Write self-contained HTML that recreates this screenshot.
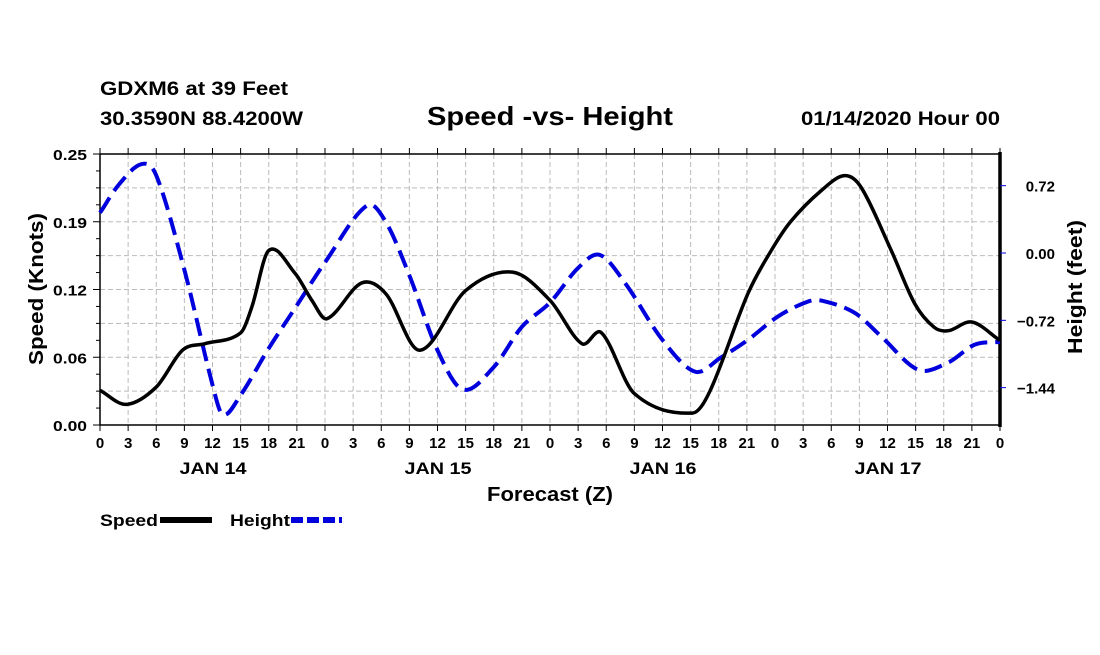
<!DOCTYPE html>
<html><head><meta charset="utf-8"><style>
body{margin:0;background:#fff;width:1100px;height:650px;overflow:hidden}
svg{font-family:"Liberation Sans",Arial,sans-serif;font-weight:bold}
</style></head><body>
<svg id="c" width="1100" height="650">
<text x="100" y="95" font-size="19" textLength="188" lengthAdjust="spacingAndGlyphs">GDXM6 at 39 Feet</text>
<text x="100" y="125" font-size="19" textLength="203" lengthAdjust="spacingAndGlyphs">30.3590N 88.4200W</text>
<text x="427" y="125" font-size="26" textLength="246" lengthAdjust="spacingAndGlyphs">Speed -vs- Height</text>
<text x="801" y="125" font-size="19" textLength="199" lengthAdjust="spacingAndGlyphs">01/14/2020 Hour 00</text>
<g id="grid"></g><g id="axes"></g><g id="series"></g>
<text x="487" y="501" font-size="20" textLength="126" lengthAdjust="spacingAndGlyphs">Forecast (Z)</text>
<text transform="translate(43,365) rotate(-90)" font-size="20" textLength="152" lengthAdjust="spacingAndGlyphs">Speed (Knots)</text>
<text transform="translate(1082,354) rotate(-90)" font-size="20" textLength="134" lengthAdjust="spacingAndGlyphs">Height (feet)</text>
<g><text x="100" y="526" font-size="17" textLength="58" lengthAdjust="spacingAndGlyphs">Speed</text><line x1="160" y1="520" x2="212" y2="520" stroke="#000" stroke-width="6"/></g>
<g><text x="230" y="526" font-size="17" textLength="60" lengthAdjust="spacingAndGlyphs">Height</text><line x1="291" y1="520" x2="342" y2="520" stroke="#0000dd" stroke-width="6" stroke-dasharray="12,4"/></g>
</svg>
<script>
const hours=[0,2.8,6,8.8,11.2,15,16.2,18,20.8,22.6,24.2,27.9,30.5,34.1,39,44,48,51.4,53.5,57,63.2,65.1,69.1,71.6,73.7,76.9,79.4,81.2,84.4,86.9,89,90.5,93,96];
const speed=[0.032,0.019,0.035,0.069,0.075,0.085,0.109,0.161,0.140,0.115,0.098,0.131,0.121,0.069,0.124,0.141,0.115,0.075,0.085,0.029,0.011,0.032,0.121,0.161,0.188,0.216,0.230,0.219,0.161,0.112,0.090,0.087,0.095,0.078];
const heightHours=[0,2,4.4,6,9,12,13.1,15,18,21,24,28.5,30.5,33,36,38.7,42,45,48,51,53.3,56,60,63.5,66.2,69.1,72.3,75.5,77,80.5,83.4,87.3,90.5,93.3,96];
const heightVals=[0.43,0.73,0.95,0.83,-0.18,-1.41,-1.73,-1.52,-1.02,-0.56,-0.10,0.51,0.33,-0.24,-1.04,-1.46,-1.22,-0.79,-0.53,-0.16,-0.02,-0.32,-0.93,-1.27,-1.12,-0.93,-0.68,-0.52,-0.51,-0.64,-0.90,-1.25,-1.17,-0.98,-0.95];
const leftTicks=["0.00","0.06","0.12","0.19","0.25"];
const rightTicks=[0.72,0,-0.72,-1.44];
const rightLabels=["0.72","0.00","−0.72","−1.44"];
const dayLabels=["JAN 14","JAN 15","JAN 16","JAN 17"];
const X0=100,X1=1000,Y0=425,Y1=154;
const xs=h=>X0+h*(X1-X0)/96;
const ys=v=>Y0-v*(Y0-Y1)/0.25;
const yh=v=>253-v*93.5;
const NS="http://www.w3.org/2000/svg";
function mk(p,t,a){const e=document.createElementNS(NS,t);for(const k in a)e.setAttribute(k,a[k]);p.appendChild(e);return e;}
const grid=document.getElementById('grid'),axes=document.getElementById('axes'),ser=document.getElementById('series');
for(let h=3;h<96;h+=3){const l=mk(grid,'line',{x1:xs(h),x2:xs(h),y1:Y1,y2:Y0,stroke:'#bbb','stroke-dasharray':'5,3'});

}
for(let i=1;i<8;i++){const v=i*0.03125;const l=mk(grid,'line',{x1:X0,x2:X1,y1:ys(v),y2:ys(v),stroke:'#bbb','stroke-dasharray':'5,3'});

}
mk(axes,'rect',{x:X0,y:Y1,width:X1-X0,height:Y0-Y1,fill:'none',stroke:'#000','stroke-width':1.5});
mk(axes,'line',{x1:X1,x2:X1,y1:Y1-2,y2:Y0+2,stroke:'#000','stroke-width':3.5});
for(let h=0;h<=96;h+=3){const x=xs(h);mk(axes,'line',{x1:x,x2:x,y1:Y0,y2:Y0+6,stroke:'#000'});mk(axes,'line',{x1:x,x2:x,y1:Y1,y2:Y1-6,stroke:'#000'});
const t=mk(axes,'text',{x:x,y:448,'font-size':15,'text-anchor':'middle'});t.textContent=h%24;

}
dayLabels.forEach((d,i)=>{const t=mk(axes,'text',{x:xs(12+24*i)-33,y:474,'font-size':17,textLength:67,lengthAdjust:'spacingAndGlyphs'});t.textContent=d;

});
for(let i=0;i<=16;i++){const v=i*0.015625;mk(axes,'line',{x1:X0-(i%4?4:7),x2:X0,y1:ys(v),y2:ys(v),stroke:'#000'});}
leftTicks.forEach((s,i)=>{const t=mk(axes,'text',{x:87,y:ys(i*0.0625)+6,'font-size':15,'text-anchor':'end',textLength:34,lengthAdjust:'spacingAndGlyphs'});t.textContent=s;

});
rightTicks.forEach((v,i)=>{mk(axes,'line',{x1:X1,x2:X1+6,y1:yh(v),y2:yh(v),stroke:'#0000dd'});
const t=mk(axes,'text',{x:1055,y:yh(v)+6,'font-size':15,'text-anchor':'end'});t.textContent=rightLabels[i];

});
function smooth(P){let d=`M${P[0][0]},${P[0][1]}`;for(let i=0;i<P.length-1;i++){const p0=P[Math.max(0,i-1)],p1=P[i],p2=P[i+1],p3=P[Math.min(P.length-1,i+2)];
const dx=p2[0]-p1[0];
const m1=(p2[1]-p0[1])/(p2[0]-p0[0]||1),m2=(p3[1]-p1[1])/(p3[0]-p1[0]||1);
d+=`C${p1[0]+dx/3},${p1[1]+m1*dx/3} ${p2[0]-dx/3},${p2[1]-m2*dx/3} ${p2[0]},${p2[1]}`;}return d;}
const hp=mk(ser,'path',{d:smooth(heightHours.map((h,i)=>[xs(h),yh(heightVals[i])])),fill:'none',stroke:'#0000dd','stroke-width':4,'stroke-dasharray':'18,8'});


const sp=mk(ser,'path',{d:smooth(hours.map((h,i)=>[xs(h),ys(speed[i])])),fill:'none',stroke:'#000','stroke-width':3.5});


</script>
</body></html>
